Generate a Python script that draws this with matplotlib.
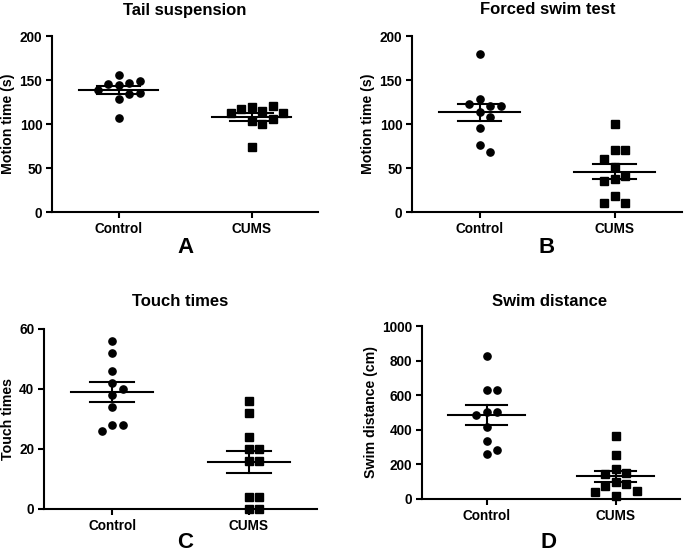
import numpy as np
import matplotlib
matplotlib.use("Agg")
import matplotlib.pyplot as plt

plt.rcParams["font.family"] = ["Liberation Sans", "DejaVu Sans"]
plt.rcParams["font.weight"] = "bold"
plt.rcParams["axes.labelweight"] = "bold"

groups = ["Control", "CUMS"]

# A: tail suspension, motion time (s)
tail_control = [156, 147, 144, 146, 149, 139, 134, 135, 128, 107]
tail_cums = [119, 115, 117, 121, 112, 112, 103, 100, 106, 74]
# B: forced swim test, motion time (s)
fst_control = [180, 128, 121, 123, 114, 120, 108, 95, 76, 68]
fst_cums = [100, 70, 70, 60, 51, 41, 37, 35, 18, 10, 10]
# C: touch times
touch_control = [56, 52, 46, 42, 40, 38, 34, 28, 28, 26]
touch_cums = [36, 32, 24, 20, 20, 16, 16, 4, 4, 0, 0]
# D: swim distance (cm)
dist_control = [825, 628, 628, 501, 501, 486, 414, 333, 258, 285]
dist_cums = [364, 256, 171, 150, 143, 98, 85, 73, 44, 40, 19]

titles = ["Tail suspension", "Forced swim test", "Touch times", "Swim distance"]
ylabels = ["Motion time (s)", "Motion time (s)", "Touch times", "Swim distance (cm)"]
ylims = [200, 200, 60, 1000]
ysteps = [50, 50, 20, 200]
letters = ["A", "B", "C", "D"]

W, H = 685, 554
fig = plt.figure(figsize=(W / 100, H / 100), dpi=100)


def px_axes(x0, x1, ytop, ybot):
    return fig.add_axes([x0 / W, 1 - ybot / H, (x1 - x0) / W, (ybot - ytop) / H])


def swarm(ax, xc, vals, diam):
    # simple beeswarm in pixel space, half-diameter steps
    pts = []
    offs = []
    step = diam / 2
    for v in vals:
        py = ax.transData.transform((xc, v))[1]
        cands = [0]
        for i in range(1, 20):
            cands += [i * step, -i * step]
        for c in cands:
            if all((c - ox) ** 2 + (py - oy) ** 2 >= (diam * 0.98) ** 2 for ox, oy in pts):
                pts.append((c, py))
                offs.append(c)
                break
    px0 = ax.transData.transform((xc, 0))[0]
    return [ax.transData.inverted().transform((px0 + o, 0))[0] for o in offs]


def panel(ax, ctrl, cums, title, ylabel, ymax, ystep, letter, lx, ly, tx, ty):
    ax.set_xlim(0.5, 2.5)
    ax.set_ylim(0, ymax)
    for s in ["top", "right"]:
        ax.spines[s].set_visible(False)
    for s in ["left", "bottom"]:
        ax.spines[s].set_linewidth(1.5)
    ax.set_yticks(np.arange(0, ymax + 1, ystep))
    ax.set_xticks([1, 2])
    ax.set_xticklabels(groups)
    ax.tick_params(width=1.5, length=4, labelsize=9.8, pad=3)
    for lab in ax.get_xticklabels() + ax.get_yticklabels():
        lab.set_fontweight("bold")
    ax.set_ylabel(ylabel, fontsize=10.2, fontweight="bold", labelpad=3)
    for xc, vals, mk in [(1, ctrl, "o"), (2, cums, "s")]:
        vals = np.array(vals, dtype=float)
        xs = swarm(ax, xc, vals, 10.5)
        ax.plot(xs, vals, mk, color="black", markersize=5.2, linestyle="none",
                clip_on=False, zorder=3)
        m = vals.mean()
        sem = vals.std(ddof=1) / np.sqrt(len(vals))
        ax.plot([xc - 0.3, xc + 0.3], [m, m], color="black", lw=1.5, zorder=4)
        ax.plot([xc - 0.16, xc + 0.16], [m + sem, m + sem], color="black", lw=1.5, zorder=4)
        ax.plot([xc - 0.16, xc + 0.16], [m - sem, m - sem], color="black", lw=1.5, zorder=4)
        ax.plot([xc, xc], [m - sem, m + sem], color="black", lw=1.5, zorder=4)
    fig.text(tx / W, 1 - ty / H, title, ha="center", va="center",
             fontsize=12, fontweight="bold")
    fig.text(lx / W, 1 - ly / H, letter, ha="center", va="center",
             fontsize=16, fontweight="bold")


axA = px_axes(52, 318, 36, 212)
axB = px_axes(412, 682, 36, 212)
axC = px_axes(44, 317, 329, 509)
axD = px_axes(422, 680, 326, 499)

panel(axA, tail_control, tail_cums, titles[0], ylabels[0], ylims[0], ysteps[0], letters[0], 185, 248, 185, 10)
panel(axB, fst_control, fst_cums, titles[1], ylabels[1], ylims[1], ysteps[1], letters[1], 547, 248, 548, 10)
panel(axC, touch_control, touch_cums, titles[2], ylabels[2], ylims[2], ysteps[2], letters[2], 185, 543, 180, 301)
panel(axD, dist_control, dist_cums, titles[3], ylabels[3], ylims[3], ysteps[3], letters[3], 548, 543, 550, 301)

fig.savefig("out.png", dpi=100)
